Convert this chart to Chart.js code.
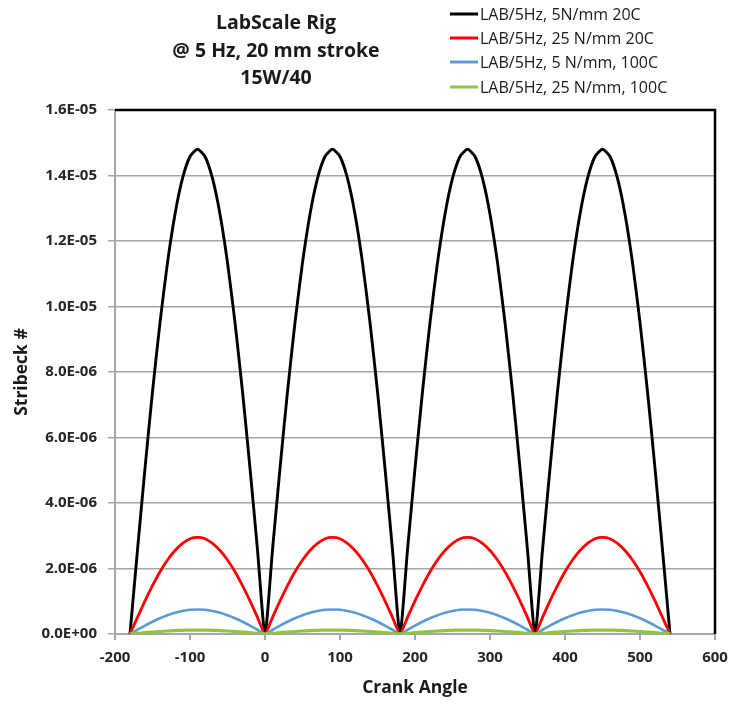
<!DOCTYPE html>
<html>
<head>
<meta charset="utf-8">
<title>LabScale Rig – Stribeck number vs crank angle</title>
<script src="https://cdn.jsdelivr.net/npm/chart.js@4.4.1/dist/chart.umd.min.js"></script>
<style>
  html, body { margin: 0; padding: 0; background: #ffffff; }
  #wrap { width: 730px; height: 704px; }
</style>
</head>
<body>
<div id="wrap"><canvas id="chart" width="730" height="704"></canvas></div>
<script>
// Crank angle samples (degrees)
const crankAngle = [
  -180,-170,-160,-150,-140,-130,-120,-110,-100,-90,-80,-70,-60,-50,-40,-30,-20,-10,
  0,10,20,30,40,50,60,70,80,90,100,110,120,130,140,150,160,170,
  180,190,200,210,220,230,240,250,260,270,280,290,300,310,320,330,340,350,
  360,370,380,390,400,410,420,430,440,450,460,470,480,490,500,510,520,530,
  540
];

// Stribeck number, LAB/5Hz, 5 N/mm, 20C
const lab5N20C = [
  0,2.57e-6,5.06e-6,7.40e-6,9.51e-6,1.134e-5,1.282e-5,1.391e-5,1.458e-5,1.48e-5,1.458e-5,1.391e-5,1.282e-5,1.134e-5,9.51e-6,7.40e-6,5.06e-6,2.57e-6,
  0,2.57e-6,5.06e-6,7.40e-6,9.51e-6,1.134e-5,1.282e-5,1.391e-5,1.458e-5,1.48e-5,1.458e-5,1.391e-5,1.282e-5,1.134e-5,9.51e-6,7.40e-6,5.06e-6,2.57e-6,
  0,2.57e-6,5.06e-6,7.40e-6,9.51e-6,1.134e-5,1.282e-5,1.391e-5,1.458e-5,1.48e-5,1.458e-5,1.391e-5,1.282e-5,1.134e-5,9.51e-6,7.40e-6,5.06e-6,2.57e-6,
  0,2.57e-6,5.06e-6,7.40e-6,9.51e-6,1.134e-5,1.282e-5,1.391e-5,1.458e-5,1.48e-5,1.458e-5,1.391e-5,1.282e-5,1.134e-5,9.51e-6,7.40e-6,5.06e-6,2.57e-6,
  0
];

// Stribeck number, LAB/5Hz, 25 N/mm, 20C
const lab25N20C = [
  0,5.1e-7,1.01e-6,1.475e-6,1.90e-6,2.26e-6,2.55e-6,2.77e-6,2.91e-6,2.95e-6,2.91e-6,2.77e-6,2.55e-6,2.26e-6,1.90e-6,1.475e-6,1.01e-6,5.1e-7,
  0,5.1e-7,1.01e-6,1.475e-6,1.90e-6,2.26e-6,2.55e-6,2.77e-6,2.91e-6,2.95e-6,2.91e-6,2.77e-6,2.55e-6,2.26e-6,1.90e-6,1.475e-6,1.01e-6,5.1e-7,
  0,5.1e-7,1.01e-6,1.475e-6,1.90e-6,2.26e-6,2.55e-6,2.77e-6,2.91e-6,2.95e-6,2.91e-6,2.77e-6,2.55e-6,2.26e-6,1.90e-6,1.475e-6,1.01e-6,5.1e-7,
  0,5.1e-7,1.01e-6,1.475e-6,1.90e-6,2.26e-6,2.55e-6,2.77e-6,2.91e-6,2.95e-6,2.91e-6,2.77e-6,2.55e-6,2.26e-6,1.90e-6,1.475e-6,1.01e-6,5.1e-7,
  0
];

// Stribeck number, LAB/5Hz, 5 N/mm, 100C
const lab5N100C = [
  0,1.3e-7,2.57e-7,3.75e-7,4.82e-7,5.75e-7,6.5e-7,7.05e-7,7.39e-7,7.5e-7,7.39e-7,7.05e-7,6.5e-7,5.75e-7,4.82e-7,3.75e-7,2.57e-7,1.3e-7,
  0,1.3e-7,2.57e-7,3.75e-7,4.82e-7,5.75e-7,6.5e-7,7.05e-7,7.39e-7,7.5e-7,7.39e-7,7.05e-7,6.5e-7,5.75e-7,4.82e-7,3.75e-7,2.57e-7,1.3e-7,
  0,1.3e-7,2.57e-7,3.75e-7,4.82e-7,5.75e-7,6.5e-7,7.05e-7,7.39e-7,7.5e-7,7.39e-7,7.05e-7,6.5e-7,5.75e-7,4.82e-7,3.75e-7,2.57e-7,1.3e-7,
  0,1.3e-7,2.57e-7,3.75e-7,4.82e-7,5.75e-7,6.5e-7,7.05e-7,7.39e-7,7.5e-7,7.39e-7,7.05e-7,6.5e-7,5.75e-7,4.82e-7,3.75e-7,2.57e-7,1.3e-7,
  0
];

// Stribeck number, LAB/5Hz, 25 N/mm, 100C
const lab25N100C = [
  0,2.1e-8,4.1e-8,6.0e-8,7.7e-8,9.2e-8,1.04e-7,1.13e-7,1.18e-7,1.2e-7,1.18e-7,1.13e-7,1.04e-7,9.2e-8,7.7e-8,6.0e-8,4.1e-8,2.1e-8,
  0,2.1e-8,4.1e-8,6.0e-8,7.7e-8,9.2e-8,1.04e-7,1.13e-7,1.18e-7,1.2e-7,1.18e-7,1.13e-7,1.04e-7,9.2e-8,7.7e-8,6.0e-8,4.1e-8,2.1e-8,
  0,2.1e-8,4.1e-8,6.0e-8,7.7e-8,9.2e-8,1.04e-7,1.13e-7,1.18e-7,1.2e-7,1.18e-7,1.13e-7,1.04e-7,9.2e-8,7.7e-8,6.0e-8,4.1e-8,2.1e-8,
  0,2.1e-8,4.1e-8,6.0e-8,7.7e-8,9.2e-8,1.04e-7,1.13e-7,1.18e-7,1.2e-7,1.18e-7,1.13e-7,1.04e-7,9.2e-8,7.7e-8,6.0e-8,4.1e-8,2.1e-8,
  0
];

const seriesNames = [
  'LAB/5Hz, 5N/mm 20C',
  'LAB/5Hz, 25 N/mm 20C',
  'LAB/5Hz, 5 N/mm, 100C',
  'LAB/5Hz, 25 N/mm, 100C'
];

const titleLines = ['LabScale Rig', '@ 5 Hz, 20 mm stroke', '15W/40'];
const xTickLabels = ['-200', '-100', '0', '100', '200', '300', '400', '500', '600'];
const yTickLabels = ['0.0E+00', '2.0E-06', '4.0E-06', '6.0E-06', '8.0E-06',
                     '1.0E-05', '1.2E-05', '1.4E-05', '1.6E-05'];

const FONT = '"Open Sans", Lato, "DejaVu Sans", sans-serif';
const GRID = '#a6a6a6';
const TEXT = '#1a1a1a';

function points(values) {
  return crankAngle.map((a, i) => ({ x: a, y: values[i] }));
}

function series(label, values, color, width, order) {
  return {
    label: label,
    data: points(values),
    borderColor: color,
    backgroundColor: color,
    borderWidth: width,
    pointRadius: 0,
    showLine: true,
    tension: 0.2,
    fill: false,
    order: order
  };
}

// Multi-line title at upper left and the stacked key at upper right
const headerPlugin = {
  id: 'header',
  afterDraw(chart) {
    const ctx = chart.ctx;
    ctx.save();
    ctx.fillStyle = TEXT;
    ctx.font = 'bold 19.5px ' + FONT;
    ctx.textAlign = 'center';
    ctx.textBaseline = 'middle';
    const ty = [23, 51, 78];
    titleLines.forEach((t, i) => ctx.fillText(t, 276, ty[i]));

    ctx.font = '16px ' + FONT;
    ctx.textAlign = 'left';
    const ly = [14, 38, 62, 87];
    chart.data.datasets.forEach((ds, i) => {
      ctx.strokeStyle = ds.borderColor;
      ctx.lineWidth = 3;
      ctx.beginPath();
      ctx.moveTo(450, ly[i]);
      ctx.lineTo(478, ly[i]);
      ctx.stroke();
      ctx.fillStyle = TEXT;
      ctx.fillText(ds.label, 480, ly[i] + 1);
    });
    ctx.restore();
  }
};

// Dark frame along the top and right of the plot area
const framePlugin = {
  id: 'frame',
  afterDatasetsDraw(chart) {
    const { ctx, chartArea: a } = chart;
    ctx.save();
    ctx.strokeStyle = '#000000';
    ctx.lineWidth = 2.5;
    ctx.beginPath();
    ctx.moveTo(a.left, a.top);
    ctx.lineTo(a.right, a.top);
    ctx.lineTo(a.right, a.bottom);
    ctx.stroke();
    ctx.restore();
  }
};

new Chart(document.getElementById('chart'), {
  type: 'scatter',
  data: {
    datasets: [
      series(seriesNames[0], lab5N20C, '#000000', 2.9, 4),
      series(seriesNames[1], lab25N20C, '#ff0000', 2.8, 3),
      series(seriesNames[2], lab5N100C, '#5b9bd5', 2.6, 2),
      series(seriesNames[3], lab25N100C, '#8cc63f', 3.2, 1)
    ]
  },
  options: {
    responsive: false,
    animation: false,
    devicePixelRatio: 1,
    layout: { padding: { top: 110, right: 15, left: 0, bottom: 0 } },
    plugins: {
      legend: { display: false },
      title: { display: false },
      tooltip: { enabled: false }
    },
    scales: {
      x: {
        type: 'linear',
        min: -200,
        max: 600,
        afterFit(scale) { scale.height = 70; scale.paddingRight = 0; },
        ticks: {
          stepSize: 100,
          padding: 9,
          color: '#262626',
          font: { family: FONT, size: 15, weight: 'bold' },
          callback: (v, i) => xTickLabels[i]
        },
        grid: {
          drawOnChartArea: false,
          drawTicks: true,
          tickLength: 6,
          color: GRID,
          lineWidth: 2
        },
        border: { display: true, color: GRID, width: 2 },
        title: {
          display: true,
          text: 'Crank Angle',
          color: TEXT,
          font: { family: FONT, size: 17.5, weight: 'bold' },
          padding: { top: 0, bottom: 5 }
        }
      },
      y: {
        type: 'linear',
        min: 0,
        max: 1.6e-5,
        afterFit(scale) { scale.width = 115; },
        ticks: {
          stepSize: 2e-6,
          padding: 11,
          color: '#262626',
          font: { family: FONT, size: 15, weight: 'bold' },
          callback: (v, i) => yTickLabels[i]
        },
        grid: {
          color: GRID,
          lineWidth: 1.5,
          drawTicks: true,
          tickLength: 7
        },
        border: { display: true, color: GRID, width: 2 },
        title: {
          display: true,
          text: 'Stribeck #',
          color: TEXT,
          font: { family: FONT, size: 17.5, weight: 'bold' },
          padding: { top: 12, bottom: 0 }
        }
      }
    }
  },
  plugins: [headerPlugin, framePlugin]
});
</script>
</body>
</html>
